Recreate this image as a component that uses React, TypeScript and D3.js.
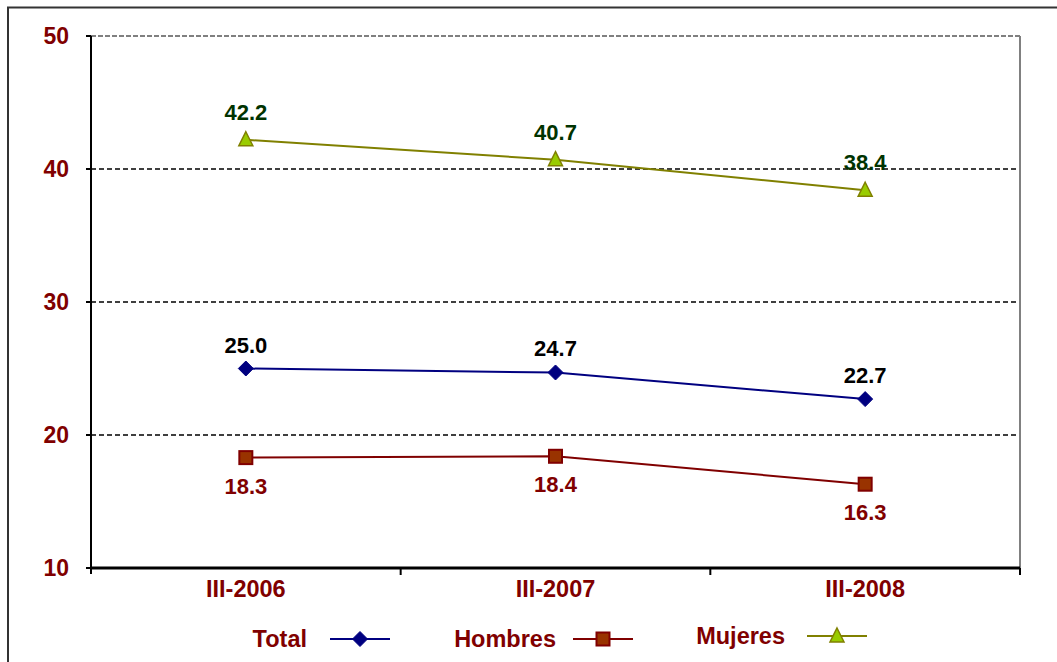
import React from "react";
import * as d3 from "d3";

const categories = ["III-2006", "III-2007", "III-2008"];
const totalValues = [25.0, 24.7, 22.7];
const hombresValues = [18.3, 18.4, 16.3];
const mujeresValues = [42.2, 40.7, 38.4];
const yTicks = [10, 20, 30, 40, 50];
const legendLabels = ["Total", "Hombres", "Mujeres"];

const W = 1057;
const H = 662;
const plot = { left: 91, right: 1020, top: 36, bottom: 568 };
const FONT = "'Liberation Sans', Arial, sans-serif";
const AXIS_RED = "#800000";

export default function App() {
  const x = d3
    .scaleBand<string>()
    .domain(categories)
    .range([plot.left, plot.right])
    .padding(0);
  const y = d3.scaleLinear().domain([10, 50]).range([plot.bottom, plot.top]);
  const cx = (c: string) => (x(c) ?? 0) + x.bandwidth() / 2;

  const series = [
    {
      name: legendLabels[0],
      values: totalValues,
      line: "#000080",
      fill: "#000080",
      stroke: "#000080",
      marker: "diamond",
      labelColor: "#000000",
      labelDy: -16,
    },
    {
      name: legendLabels[1],
      values: hombresValues,
      line: "#800000",
      fill: "#993300",
      stroke: "#800000",
      marker: "square",
      labelColor: "#800000",
      labelDy: 36,
    },
    {
      name: legendLabels[2],
      values: mujeresValues,
      line: "#808000",
      fill: "#99CC00",
      stroke: "#808000",
      marker: "triangle",
      labelColor: "#003300",
      labelDy: -20,
    },
  ];

  const lineGen = d3
    .line<number>()
    .x((_, i) => cx(categories[i]))
    .y((v) => y(v));

  const marker = (type: string, px: number, py: number, fill: string, stroke: string, key?: string) => {
    if (type === "diamond") {
      const s = 7.5;
      return (
        <path
          key={key}
          d={`M${px},${py - s}L${px + s},${py}L${px},${py + s}L${px - s},${py}Z`}
          fill={fill}
          stroke={stroke}
          strokeWidth={1}
        />
      );
    }
    if (type === "square") {
      const s = 6.5;
      return (
        <rect
          key={key}
          x={px - s}
          y={py - s}
          width={2 * s}
          height={2 * s}
          fill={fill}
          stroke={stroke}
          strokeWidth={2}
        />
      );
    }
    const s = 7;
    return (
      <path
        key={key}
        d={`M${px},${py - s - 1}L${px + s},${py + s - 1}L${px - s},${py + s - 1}Z`}
        fill={fill}
        stroke={stroke}
        strokeWidth={1.5}
      />
    );
  };

  const legendItems = [
    { textX: 307, lineX1: 330, lineX2: 390, y: 639 },
    { textX: 556, lineX1: 573, lineX2: 633, y: 639 },
    { textX: 785, lineX1: 807, lineX2: 867, y: 636 },
  ];

  return (
    <svg
      width={W}
      height={H}
      style={{ position: "absolute", left: 0, top: 0, background: "#fff" }}
      fontFamily={FONT}
    >
      <rect x={0} y={0} width={W} height={H} fill="#fff" />
      {/* outer frame */}
      <rect x={8} y={7.5} width={W + 20} height={H + 20} fill="none" stroke="#333" strokeWidth={2} />

      {/* grid lines */}
      {yTicks
        .filter((t) => t !== 10 && t !== 50)
        .map((t) => (
          <line
            key={t}
            x1={plot.left}
            x2={plot.right}
            y1={y(t)}
            y2={y(t)}
            stroke="#000"
            strokeWidth={1.5}
            strokeDasharray="5,3"
          />
        ))}
      {/* top/right plot border */}
      <line
        x1={plot.left}
        x2={plot.right}
        y1={y(50)}
        y2={y(50)}
        stroke="#808080"
        strokeWidth={2}
        strokeDasharray="5,2"
      />
      <line x1={plot.right} x2={plot.right} y1={plot.top} y2={plot.bottom} stroke="#808080" strokeWidth={2} />

      {/* y axis */}
      <line x1={plot.left} x2={plot.left} y1={plot.top} y2={plot.bottom + 6} stroke="#000" strokeWidth={2} />
      {yTicks.map((t) => (
        <g key={t}>
          <line x1={plot.left - 5} x2={plot.left} y1={y(t)} y2={y(t)} stroke="#000" strokeWidth={2} />
          <text
            x={69}
            y={y(t) + 8}
            textAnchor="end"
            fontSize={23}
            fontWeight="bold"
            fill={AXIS_RED}
          >
            {t}
          </text>
        </g>
      ))}

      {/* x axis */}
      <line x1={plot.left} x2={plot.right} y1={plot.bottom} y2={plot.bottom} stroke="#000" strokeWidth={3} />
      {categories.map((c) => (
        <line
          key={"tk" + c}
          x1={(x(c) ?? 0) + x.bandwidth()}
          x2={(x(c) ?? 0) + x.bandwidth()}
          y1={plot.bottom}
          y2={plot.bottom + 7}
          stroke="#000"
          strokeWidth={2}
        />
      ))}
      {categories.map((c) => (
        <text
          key={c}
          x={cx(c)}
          y={597}
          textAnchor="middle"
          fontSize={23.5}
          fontWeight="bold"
          fill={AXIS_RED}
        >
          {c}
        </text>
      ))}

      {/* series */}
      {series.map((s) => (
        <g key={s.name}>
          <path d={lineGen(s.values) ?? ""} fill="none" stroke={s.line} strokeWidth={2} />
          {s.values.map((v, i) => marker(s.marker, cx(categories[i]), y(v), s.fill, s.stroke, s.name + i))}
          {s.values.map((v, i) => (
            <text
              key={"l" + i}
              x={cx(categories[i])}
              y={y(v) + s.labelDy}
              textAnchor="middle"
              fontSize={22}
              fontWeight="bold"
              fill={s.labelColor}
            >
              {v.toFixed(1)}
            </text>
          ))}
        </g>
      ))}

      {/* legend */}
      {series.map((s, i) => {
        const li = legendItems[i];
        const mx = (li.lineX1 + li.lineX2) / 2;
        return (
          <g key={"lg" + s.name}>
            <text
              x={li.textX}
              y={li.y + 8}
              textAnchor="end"
              fontSize={23.5}
              fontWeight="bold"
              fill={AXIS_RED}
            >
              {s.name}
            </text>
            <line x1={li.lineX1} x2={li.lineX2} y1={li.y} y2={li.y} stroke={s.line} strokeWidth={2} />
            {marker(s.marker, mx, li.y, s.fill, s.stroke)}
          </g>
        );
      })}
    </svg>
  );
}
